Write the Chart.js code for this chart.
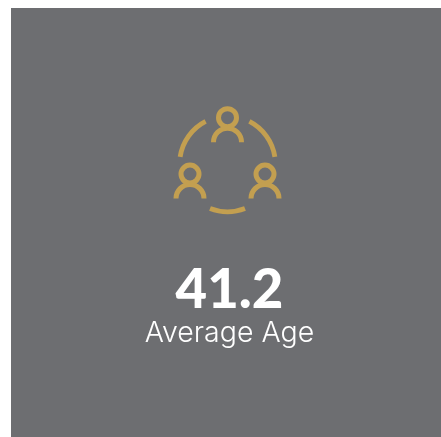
<!DOCTYPE html>
<html>
<head>
<meta charset="utf-8">
<style>
html, body { margin: 0; padding: 0; background: #fff; overflow: hidden; }
#statChart { position: absolute; left: 11px; top: 8px; background: #6d6e71; }
</style>
</head>
<body>
<canvas id="statChart" width="430" height="429"></canvas>
<script src="https://cdn.jsdelivr.net/npm/chart.js@4"></script>
<script>
var statValue = "41.2";
var statLabel = "Average Age";
// ring round the people icon: arc, gap, arc, gap, arc, gap
var ringSegments = [54.3, 77.1, 42.8, 77.1, 54.3, 54.4];
var ringColors = ["#c39f50", "transparent", "#c39f50", "transparent", "#c39f50", "transparent"];

var gold = "#c39f50";

// little person icons, offsets from the centre of the ring
var people = [[0, -46.3], [-37.5, 10], [37.5, 10]];

var peopleIcon = {
    id: "peopleIcon",
    afterLayout: function (chart) {
        // icon sits a bit left of the text centre
        chart.chartArea.left -= 2;
        chart.chartArea.right -= 2;
    },
    afterDatasetsDraw: function (chart) {
        var ring = chart.getDatasetMeta(0).data[0];
        var ctx = chart.ctx;
        ctx.save();
        ctx.strokeStyle = gold;
        ctx.lineWidth = 5;
        people.forEach(function (p) {
            var x = ring.x + p[0];
            var y = ring.y + p[1];
            ctx.beginPath();
            ctx.arc(x, y, 9, 0, Math.PI * 2);
            ctx.stroke();
            ctx.beginPath();
            ctx.arc(x, y + 24.5, 14, Math.PI, Math.PI * 2);
            ctx.stroke();
        });
        ctx.restore();
    }
};

let chart = new Chart("statChart", {
    type: "doughnut",
    data: {
        labels: ["a", "", "b", "", "c", ""],
        datasets: [{
            data: ringSegments,
            backgroundColor: ringColors,
            borderWidth: 0,
            radius: 50.3,
            rotation: 27.2
        }]
    },
    options: {
        responsive: false,
        animation: false,
        cutout: "90.4%",
        layout: {
            padding: { left: 7, top: 55.4 }
        },
        plugins: {
            legend: { display: false },
            tooltip: { enabled: false },
            title: {
                display: true,
                position: "bottom",
                weight: 1000,
                text: statValue,
                color: "#ffffff",
                font: { family: "Lato", size: 54.5, weight: "900", lineHeight: 0.95 },
                padding: { top: 0, bottom: 0 }
            },
            subtitle: {
                display: true,
                position: "bottom",
                weight: 1500,
                text: statLabel,
                color: "#ffffff",
                font: { family: "Inter", size: 28.5, weight: "300" },
                padding: { top: 0, bottom: 86.4 }
            }
        }
    },
    plugins: [peopleIcon]
});
</script>
</body>
</html>
